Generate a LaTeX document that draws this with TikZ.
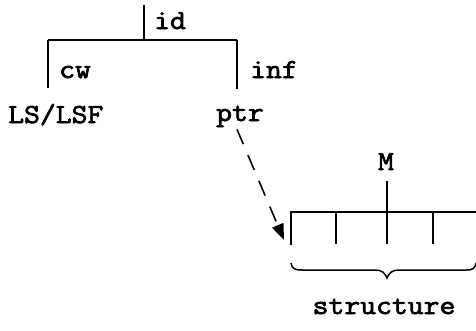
\documentclass[tikz,border=0pt]{standalone}
\usepackage{fontspec}
\newfontfamily\tw[FakeBold=2.5,FakeStretch=1.12]{Latin Modern Mono}
\usetikzlibrary{arrows.meta}
\begin{document}
\begin{tikzpicture}[x=1pt,y=-1pt,
  ln/.style={line width=1.6pt,line cap=butt},
  lbl/.style={inner sep=0pt,anchor=base west,font=\tw\fontsize{27.5}{27.5}\selectfont},
  ptrarrow/.style={line width=1.6pt,dash pattern=on 16pt off 12pt,-{Triangle[length=16pt,width=12pt]}}]
\useasboundingbox (0,0) rectangle (476,330);
% tree
\coordinate (top) at (144,5);
\coordinate (j) at (144,40);
\coordinate (hl) at (48,40);
\coordinate (hr) at (237,40);
\coordinate (lb) at (48,88);
\coordinate (rb) at (237,89);
\draw[ln] (top) -- (j);
\draw[ln] (hl) -- (hr);
\draw[ln] (hl) -- (lb);
\draw[ln] (hr) -- (rb);
\node[lbl] (id) at (154,29) {id};
\node[lbl] (cw) at (59,78) {cw};
\node[lbl] (inf) at (250,78) {inf};
\node[lbl] (ls) at (8,123) {LS/LSF};
\node[lbl] (ptr) at (216,121) {ptr};
% structure box
\coordinate (b1) at (291,212);
\coordinate (b1d) at (291,245);
\coordinate (b5) at (476,212);
\coordinate (v2) at (336,212); \coordinate (v2d) at (336,244);
\coordinate (v3u) at (387,181); \coordinate (v3d) at (387,244);
\coordinate (v4) at (433,212); \coordinate (v4d) at (433,244);
\draw[ln] (b1d) -- (b1) -- (b5);
\draw[ln] (v2) -- (v2d);
\draw[ln] (v3u) -- (v3d);
\draw[ln] (v4) -- (v4d);
\node[lbl,anchor=base] (M) at (386,170) {M};
% brace
\draw[line width=1.5pt] (291,263) .. controls (292,269) and (295,270) .. (302,270)
  -- (375,270) .. controls (382,270) and (385,273) .. (387,278)
  .. controls (389,273) and (392,270) .. (399,270)
  -- (466,270) .. controls (472,270) and (475,269) .. (476,263);
\node[lbl,anchor=base] (st) at (384,314) {structure};
% pointer
\coordinate (tip) at (284,240);
\draw[ptrarrow] (ptr.south) ++(-3,2) -- (tip);
\end{tikzpicture}
\end{document}
